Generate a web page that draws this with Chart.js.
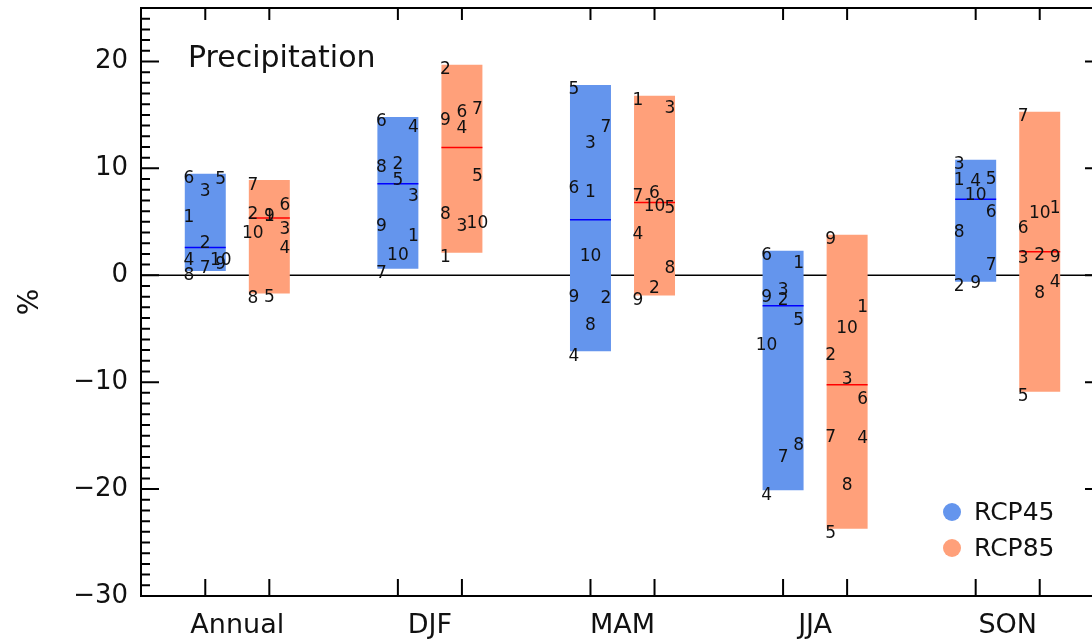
<!DOCTYPE html>
<html>
<head>
<meta charset="utf-8">
<script src="https://cdn.jsdelivr.net/npm/chart.js@4/dist/chart.umd.min.js"></script>
<style>
  html, body { margin: 0; padding: 0; background: #fff; overflow: hidden; width: 1092px; height: 640px; }
  #wrap { width: 1120px; height: 640px; }
</style>
</head>
<body>
<div id="wrap"><canvas id="c" width="1120" height="640"></canvas></div>
<script>
// Seasons and ensemble members
const categories = ['Annual', 'DJF', 'MAM', 'JJA', 'SON'];
const models = ['1', '2', '3', '4', '5', '6', '7', '8', '9', '10'];

// Precipitation change (%) per member 1..10, RCP4.5
const rcp45Annual = [5.9, 3.4, 8.3, 1.8, 9.4, 9.5, 1.1, 0.4, 1.5, 1.8];
const rcp45DJF    = [4.1, 10.8, 7.8, 14.3, 9.3, 14.8, 0.6, 10.5, 5.0, 2.3];
const rcp45MAM    = [8.2, -1.7, 12.8, -7.1, 17.8, 8.6, 14.3, -4.2, -1.6, 2.2];
const rcp45JJA    = [1.6, -1.9, -1.0, -20.1, -3.8, 2.3, -16.6, -15.5, -1.6, -6.1];
const rcp45SON    = [9.3, -0.6, 10.8, 9.2, 9.4, 6.3, 1.4, 4.5, -0.3, 7.9];

// Precipitation change (%) per member 1..10, RCP8.5
const rcp85Annual = [6.0, 6.1, 4.7, 3.0, -1.6, 7.0, 8.9, -1.7, 6.0, 4.4];
const rcp85DJF    = [2.1, 19.7, 5.0, 14.2, 9.7, 15.7, 16.0, 6.1, 14.9, 5.3];
const rcp85MAM    = [16.8, -0.8, 16.1, 4.3, 6.7, 8.1, 7.8, 1.1, -1.9, 6.9];
const rcp85JJA    = [-2.6, -7.0, -9.3, -14.8, -23.7, -11.2, -14.7, -19.2, 3.8, -4.5];
const rcp85SON    = [6.7, 2.3, 2.0, -0.2, -10.9, 4.8, 15.3, -1.2, 2.1, 6.2];

// y-axis range, minor and labelled tick steps
const yMin = -30, yMax = 25, yMinor = 1, yMajor = 10;

// Which column (Left / Middle / Right) of the bar each member number is written in
const cols45 = ['LMMLRLMLRR', 'RMRRMLLLLM', 'MRMLLLRMLM', 'RMMLRLMRLL', 'LLLMRRRLMM'];
const cols85 = ['MLRRMRLLML', 'LLMMRMRLLR', 'LMRLRMLRLM', 'RLMRLRLMLM', 'RMLRLLLMRM'];

const members45 = [rcp45Annual, rcp45DJF, rcp45MAM, rcp45JJA, rcp45SON];
const members85 = [rcp85Annual, rcp85DJF, rcp85MAM, rcp85JJA, rcp85SON];

const range = arr => [Math.min(...arr), Math.max(...arr)];
const median = arr => {
  const s = [...arr].sort((a, b) => a - b);
  const m = s.length >> 1;
  return s.length % 2 ? s[m] : (s[m - 1] + s[m]) / 2;
};

const FONT = "'DejaVu Sans', sans-serif";

// Frame, inward ticks, zero line, medians, member numbers, title and legend
const decorations = {
  id: 'decorations',
  beforeDatasetsDraw(chart) {
    const { ctx, chartArea: a, scales: { y } } = chart;
    const y0 = y.getPixelForValue(0);
    ctx.save();
    ctx.strokeStyle = '#000';
    ctx.lineWidth = 1.5;
    ctx.beginPath();
    ctx.moveTo(a.left, y0);
    ctx.lineTo(a.right, y0);
    ctx.stroke();
    ctx.restore();
  },
  afterDatasetsDraw(chart) {
    const { ctx, scales: { y } } = chart;
    ctx.save();
    chart.data.datasets.forEach((ds, di) => {
      const meta = chart.getDatasetMeta(di);
      meta.data.forEach((bar, i) => {
        const { x, width } = bar.getProps(['x', 'width'], true);
        const vals = ds.members[i];
        // ensemble median
        const ym = y.getPixelForValue(median(vals));
        ctx.strokeStyle = ds.medianColor;
        ctx.lineWidth = 1.5;
        ctx.beginPath();
        ctx.moveTo(x - width / 2, ym);
        ctx.lineTo(x + width / 2, ym);
        ctx.stroke();
        // member numbers at their values
        ctx.fillStyle = '#111';
        ctx.font = '17px ' + FONT;
        ctx.textAlign = 'center';
        ctx.textBaseline = 'middle';
        vals.forEach((v, k) => {
          const c = ds.columns[i][k];
          const dx = c === 'L' ? -width / 2 + 4 : c === 'R' ? width / 2 - 5 : 0;
          ctx.fillText(models[k], x + dx, y.getPixelForValue(v) + 5);
        });
      });
    });
    ctx.restore();
  },
  afterDraw(chart) {
    const { ctx, chartArea: a, scales: { y } } = chart;
    ctx.save();
    ctx.strokeStyle = '#000';
    ctx.lineWidth = 2;
    ctx.strokeRect(a.left, a.top, a.right - a.left, a.bottom - a.top);

    // y ticks: minor + major on the left, major only on the right
    ctx.beginPath();
    for (let v = Math.ceil(y.min); v <= y.max; v += yMinor) {
      const py = y.getPixelForValue(v);
      const major = v % yMajor === 0;
      ctx.moveTo(a.left, py);
      ctx.lineTo(a.left + (major ? 18 : 9), py);
      if (major) {
        ctx.moveTo(a.right, py);
        ctx.lineTo(a.right - 19, py);
      }
    }
    // x ticks at every bar, bottom and top
    chart.data.datasets.forEach((ds, di) => {
      chart.getDatasetMeta(di).data.forEach(bar => {
        const x = bar.getProps(['x'], true).x;
        ctx.moveTo(x, a.bottom);
        ctx.lineTo(x, a.bottom - 17);
        ctx.moveTo(x, a.top);
        ctx.lineTo(x, a.top + 12);
      });
    });
    ctx.stroke();

    // panel title
    ctx.fillStyle = '#111';
    ctx.font = '30px ' + FONT;
    ctx.textAlign = 'left';
    ctx.textBaseline = 'alphabetic';
    ctx.fillText('Precipitation', 188, 67);

    // legend
    ctx.font = '25px ' + FONT;
    chart.data.datasets.forEach((ds, di) => {
      const cy = 512 + di * 36;
      ctx.fillStyle = ds.backgroundColor;
      ctx.beginPath();
      ctx.arc(952, cy, 9, 0, Math.PI * 2);
      ctx.fill();
      ctx.fillStyle = '#111';
      ctx.textBaseline = 'middle';
      ctx.fillText(ds.label, 974, cy + 1);
    });
    ctx.restore();
  }
};

new Chart(document.getElementById('c'), {
  type: 'bar',
  data: {
    labels: categories,
    datasets: [
      {
        label: 'RCP45',
        data: members45.map(range),
        members: members45,
        columns: cols45,
        medianColor: '#0000ff',
        backgroundColor: 'rgb(100,149,237)'
      },
      {
        label: 'RCP85',
        data: members85.map(range),
        members: members85,
        columns: cols85,
        medianColor: '#ff0000',
        backgroundColor: 'rgb(255,160,122)'
      }
    ]
  },
  options: {
    responsive: false,
    animation: false,
    devicePixelRatio: 1,
    layout: { padding: { top: 8, right: 16, left: 0, bottom: 0 } },
    datasets: {
      bar: { categoryPercentage: 0.665, barPercentage: 0.64, borderWidth: 0, borderSkipped: false }
    },
    plugins: { legend: { display: false }, tooltip: { enabled: false }, title: { display: false } },
    scales: {
      x: {
        offset: true,
        grid: { display: false, drawTicks: false },
        border: { display: false },
        ticks: { color: '#111', font: { family: FONT, size: 27 }, padding: 14, autoSkip: false, maxRotation: 0 },
        afterFit: s => { s.height = 44; }
      },
      y: {
        min: yMin,
        max: yMax,
        grid: { display: false, drawTicks: false },
        border: { display: false },
        ticks: {
          stepSize: yMajor,
          padding: 13,
          color: '#111',
          font: { family: FONT, size: 26 },
          callback: v => (v % yMajor === 0 ? (v < 0 ? '\u2212' + Math.abs(v) : String(v)) : null)
        },
        title: { display: true, text: '%', color: '#111', font: { family: FONT, size: 28 }, padding: { top: 14, bottom: 0 } },
        afterFit: s => { s.width = 141; s.paddingTop = 0; s.paddingBottom = 0; }
      }
    }
  },
  plugins: [decorations]
});
</script>
</body>
</html>
